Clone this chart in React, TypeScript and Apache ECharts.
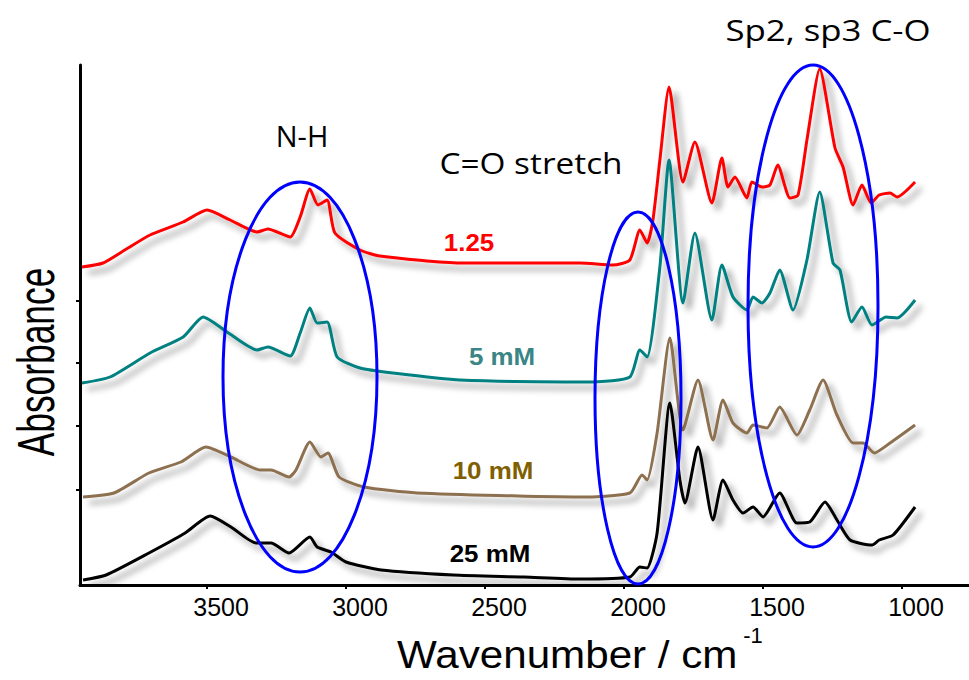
import React, { useEffect, useRef } from "react";
import * as echarts from "echarts";

// Wavenumber (cm^-1) and absorbance (offset, arbitrary units) for each spectrum
const redWn = [3950, 3874, 3790, 3705, 3586, 3500, 3417, 3320, 3281, 3201, 3165, 3130, 3101, 3068, 3040, 2950, 2878, 2590, 2158, 2040, 1979, 1943, 1917, 1896, 1871, 1838, 1788, 1745, 1684, 1648, 1626, 1601, 1558, 1540, 1504, 1475, 1447, 1403, 1374, 1342, 1296, 1241, 1212, 1176, 1144, 1111, 1082, 1043, 1018, 953];
const redAbs = [3.18, 3.22, 3.36, 3.5, 3.63, 3.75, 3.65, 3.53, 3.56, 3.48, 3.68, 3.96, 3.8, 3.85, 3.52, 3.35, 3.29, 3.22, 3.22, 3.2, 3.25, 3.55, 3.42, 3.65, 4.25, 4.98, 4.03, 4.43, 3.82, 4.27, 3.98, 4.08, 3.87, 4.03, 3.98, 4.0, 4.2, 3.87, 3.9, 4.45, 5.16, 4.37, 4.18, 3.8, 4.0, 3.82, 3.9, 3.92, 3.88, 4.03];

const tealWn = [3950, 3849, 3705, 3586, 3514, 3428, 3320, 3281, 3201, 3165, 3130, 3104, 3068, 3032, 2950, 2831, 2590, 2112, 1979, 1943, 1917, 1871, 1838, 1788, 1745, 1684, 1648, 1608, 1558, 1536, 1504, 1475, 1440, 1392, 1342, 1296, 1248, 1223, 1181, 1144, 1108, 1057, 1018, 953];
const tealAbs = [2.02, 2.08, 2.32, 2.48, 2.68, 2.53, 2.35, 2.38, 2.29, 2.52, 2.77, 2.62, 2.63, 2.28, 2.17, 2.12, 2.05, 2.03, 2.08, 2.35, 2.28, 3.18, 4.25, 2.82, 3.52, 2.65, 3.2, 2.88, 2.75, 2.88, 2.82, 2.92, 3.15, 2.75, 3.25, 3.93, 3.22, 3.15, 2.63, 2.78, 2.6, 2.68, 2.67, 2.85];

const brownWn = [3946, 3835, 3709, 3594, 3504, 3414, 3309, 3270, 3205, 3180, 3130, 3090, 3065, 3025, 2935, 2745, 2158, 1979, 1935, 1917, 1881, 1835, 1788, 1734, 1680, 1644, 1608, 1558, 1536, 1486, 1440, 1378, 1332, 1284, 1234, 1176, 1140, 1100, 1043, 953];
const brownAbs = [0.88, 0.92, 1.12, 1.23, 1.38, 1.28, 1.15, 1.15, 1.08, 1.15, 1.43, 1.28, 1.32, 1.08, 0.98, 0.92, 0.88, 0.92, 1.1, 1.05, 1.52, 2.47, 1.55, 2.05, 1.45, 1.85, 1.62, 1.52, 1.6, 1.57, 1.78, 1.5, 1.75, 2.05, 1.7, 1.42, 1.42, 1.32, 1.42, 1.6];

const blackWn = [3946, 3863, 3709, 3579, 3489, 3414, 3324, 3270, 3205, 3130, 3104, 3054, 3000, 2874, 2615, 2360, 2158, 1979, 1943, 1917, 1881, 1835, 1799, 1781, 1734, 1680, 1644, 1608, 1572, 1536, 1500, 1440, 1378, 1332, 1277, 1234, 1187, 1108, 1082, 1032, 953];
const blackAbs = [0.05, 0.1, 0.32, 0.52, 0.69, 0.58, 0.42, 0.42, 0.32, 0.48, 0.38, 0.33, 0.23, 0.15, 0.1, 0.08, 0.06, 0.08, 0.18, 0.17, 0.52, 1.82, 1.05, 0.82, 1.38, 0.65, 1.05, 0.85, 0.72, 0.78, 0.68, 0.92, 0.62, 0.63, 0.83, 0.65, 0.45, 0.4, 0.45, 0.5, 0.78];

const xTicks = [3500, 3000, 2500, 2000, 1500, 1000];
const yTicks = [0.95, 1.59, 2.22, 2.84];

const seriesNames = ["1.25", "5 mM", "10 mM", "25 mM"];
const seriesColors = ["#ff0000", "#008080", "#8c7050", "#000000"];

const pairs = (xs: number[], ys: number[]) => xs.map((x, i) => [x, ys[i]]);

export default function App() {
  const ref = useRef<HTMLDivElement>(null);

  useEffect(() => {
    document.body.style.margin = "0";
    if (!ref.current) return;
    const chart = echarts.init(ref.current, undefined, { renderer: "svg" });
    const data = [
      pairs(redWn, redAbs),
      pairs(tealWn, tealAbs),
      pairs(brownWn, brownAbs),
      pairs(blackWn, blackAbs),
    ];
    const series = data.map((d, i) => ({
      name: seriesNames[i],
      type: "line",
      data: d,
      showSymbol: false,
      symbol: "none",
      smooth: 0.2,
      z: 2 + i,
      lineStyle: {
        color: seriesColors[i],
        width: 3,
        shadowColor: "rgba(0,0,0,0.42)",
        shadowBlur: 6,
        shadowOffsetX: 6,
        shadowOffsetY: 6,
      },
    }));

    const blue = "#0000ff";
    const ellipse = (cx: number, cy: number, rx: number, ry: number) => ({
      type: "ellipse",
      z: 100,
      shape: { cx, cy, rx, ry },
      style: { fill: "none", stroke: blue, lineWidth: 3 },
    });
    const note = (text: string, x: number, y: number, sx: number) => ({
      type: "text",
      z: 101,
      x,
      y,
      scaleX: sx,
      style: {
        text,
        fill: "#000",
        fontSize: 29,
        fontFamily: "'Open Sans', 'Noto Sans', sans-serif",
        align: "center",
        verticalAlign: "middle",
      },
    });
    const tag = (text: string, color: string, x: number, y: number) => ({
      type: "text",
      z: 101,
      x,
      y,
      scaleX: 1.08,
      style: {
        text,
        fill: color,
        fontSize: 24,
        fontWeight: "bold",
        fontFamily: "'Liberation Sans', Arial, sans-serif",
        align: "center",
        verticalAlign: "middle",
      },
    });

    chart.setOption({
      animation: false,
      grid: { left: 80, right: 0, top: 65, bottom: 95, containLabel: false },
      xAxis: {
        type: "value",
        min: 759,
        max: 3957,
        inverse: true,
        axisLine: { show: true, onZero: false, lineStyle: { color: "#000", width: 3 } },
        axisTick: { show: true, customValues: xTicks, length: 4, lineStyle: { color: "#000", width: 2 } },
        axisLabel: {
          customValues: xTicks,
          formatter: (v: number) => String(v),
          fontSize: 25,
          color: "#000",
          fontFamily: "'Liberation Sans', Arial, sans-serif",
          margin: 9,
          padding: [0, 0, 0, 28],
        },
        splitLine: { show: false },
      },
      yAxis: {
        type: "value",
        min: 0,
        max: 5.2,
        axisLine: { show: true, onZero: false, lineStyle: { color: "#000", width: 3 } },
        axisTick: { show: true, customValues: yTicks, length: 4, lineStyle: { color: "#000", width: 2 } },
        axisLabel: { show: false },
        splitLine: { show: false },
      },
      series,
      graphic: [
        ellipse(300, 377, 77, 195),
        ellipse(638, 398, 43, 186),
        ellipse(813, 306, 65, 241),
        note("N-H", 302, 135, 1.0),
        note("C=O stretch", 531, 163, 1.15),
        note("Sp2, sp3 C-O", 828, 30, 1.2),
        tag("1.25", "#ff0000", 469, 242),
        tag("5 mM", "#3a8585", 502, 356),
        tag("10 mM", "#7f6000", 493, 470),
        tag("25 mM", "#000000", 490, 553),
        {
          type: "text",
          z: 101,
          x: 397,
          y: 655,
          scaleX: 1.11,
          style: {
            text: "Wavenumber / cm",
            fill: "#000",
            fontSize: 38,
            fontFamily: "'Liberation Sans', Arial, sans-serif",
            align: "left",
            verticalAlign: "middle",
          },
        },
        {
          type: "text",
          z: 101,
          x: 753,
          y: 635,
          style: {
            text: "-1",
            fill: "#000",
            fontSize: 22,
            fontFamily: "'Liberation Sans', Arial, sans-serif",
            align: "center",
            verticalAlign: "middle",
          },
        },
        {
          type: "text",
          z: 101,
          x: 36,
          y: 362,
          rotation: Math.PI / 2,
          scaleX: 0.68,
          style: {
            text: "Absorbance",
            fill: "#000",
            fontSize: 52,
            fontFamily: "'Liberation Sans', Arial, sans-serif",
            align: "center",
            verticalAlign: "middle",
          },
        },
      ],
    });
    return () => chart.dispose();
  }, []);

  return (
    <div
      ref={ref}
      style={{ position: "fixed", left: 0, top: 0, width: 969, height: 680, background: "#fff" }}
    />
  );
}
